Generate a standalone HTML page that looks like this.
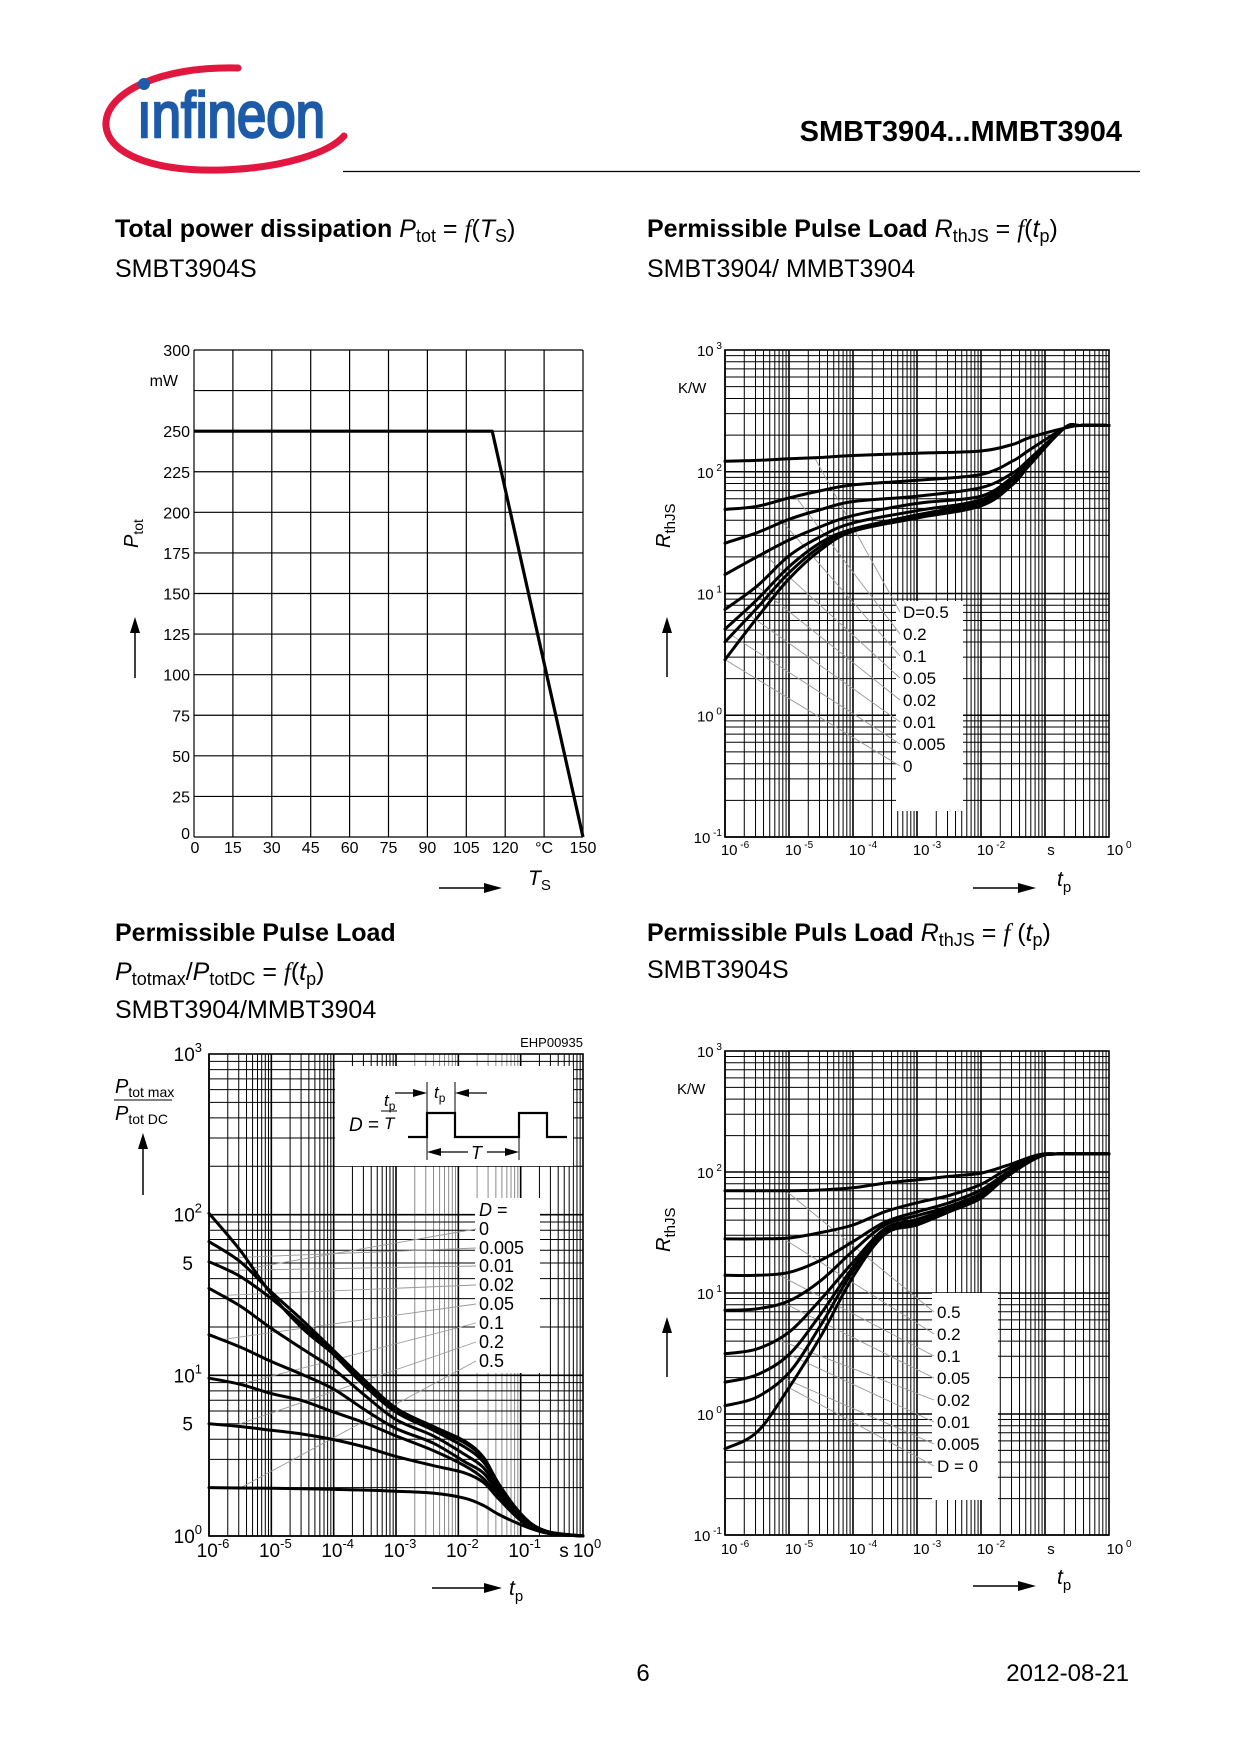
<!DOCTYPE html>
<html><head><meta charset="utf-8"><title>SMBT3904 datasheet page 6</title>
<style>
html,body{margin:0;padding:0;background:#fff;}
svg{display:block;font-family:"Liberation Sans",Arial,sans-serif;}
</style></head>
<body>
<svg id="page" xmlns="http://www.w3.org/2000/svg" width="1240" height="1754" viewBox="0 0 1240 1754">
<rect width="1240" height="1754" fill="#fff"/>
<g>
<path d="M238,68 C160,66 108,92 106,122 C104,152 150,172 222,170 C285,168 330,152 344,136" fill="none" stroke="#e2173f" stroke-width="7" stroke-linecap="round"/>
<circle cx="144" cy="84" r="6" fill="#1d5ba8"/>
<text x="137" y="137" font-size="64" fill="#1d5ba8" textLength="188" lengthAdjust="spacingAndGlyphs" stroke="#1d5ba8" stroke-width="2.6">ınfineon</text>
</g>
<text x="1122" y="141" font-size="29" font-weight="bold" text-anchor="end">SMBT3904...MMBT3904</text>
<line x1="343" y1="171.5" x2="1140" y2="171.5" stroke="#000" stroke-width="1.2"/>

<text x="115" y="237" font-size="25"><tspan font-weight="bold">Total power dissipation </tspan><tspan font-style="italic">P</tspan><tspan font-size="18" dy="5">tot</tspan><tspan dy="-5"> = </tspan><tspan font-style="italic" font-family="Liberation Serif">f</tspan>(<tspan font-style="italic">T</tspan><tspan font-size="18" dy="5">S</tspan><tspan dy="-5">)</tspan></text>
<text x="115" y="277" font-size="25">SMBT3904S</text>
<text x="647" y="237" font-size="25"><tspan font-weight="bold">Permissible Pulse Load </tspan><tspan font-style="italic">R</tspan><tspan font-size="18" dy="5">thJS</tspan><tspan dy="-5"> =  </tspan><tspan font-style="italic" font-family="Liberation Serif">f</tspan>(<tspan font-style="italic">t</tspan><tspan font-size="18" dy="5">p</tspan><tspan dy="-5">)</tspan></text>
<text x="647" y="277" font-size="25">SMBT3904/ MMBT3904</text>
<text x="115" y="941" font-size="25" font-weight="bold">Permissible Pulse Load</text>
<text x="115" y="980" font-size="25"><tspan font-style="italic">P</tspan><tspan font-size="18" dy="5">totmax</tspan><tspan dy="-5">/</tspan><tspan font-style="italic">P</tspan><tspan font-size="18" dy="5">totDC</tspan><tspan dy="-5"> =  </tspan><tspan font-style="italic" font-family="Liberation Serif">f</tspan>(<tspan font-style="italic">t</tspan><tspan font-size="18" dy="5">p</tspan><tspan dy="-5">)</tspan></text>
<text x="115" y="1018" font-size="25">SMBT3904/MMBT3904</text>
<text x="647" y="941" font-size="25"><tspan font-weight="bold">Permissible Puls Load </tspan><tspan font-style="italic">R</tspan><tspan font-size="18" dy="5">thJS</tspan><tspan dy="-5"> = </tspan><tspan font-style="italic" font-family="Liberation Serif">f</tspan> (<tspan font-style="italic">t</tspan><tspan font-size="18" dy="5">p</tspan><tspan dy="-5">)</tspan></text>
<text x="647" y="978" font-size="25">SMBT3904S</text>
<text x="643" y="1681" font-size="24" text-anchor="middle">6</text>
<text x="1129" y="1681" font-size="24" text-anchor="end">2012-08-21</text>
<g id="g1"></g>
<g id="g2"></g>
<g id="g3"></g>
<g id="g4"></g>
</svg>
<script>
// ---------- Chart 1 data ----------
const c1TempTicks = [0,15,30,45,60,75,90,105,120,135,150];
const c1TempLabels = ['0','15','30','45','60','75','90','105','120','°C','150'];
const c1PowerTicks = [0,25,50,75,100,125,150,175,200,225,250,275,300];
const c1PowerLabels = ['0','25','50','75','100','125','150','175','200','225','250','','300'];
const c1SeriesT = [0,115,150];
const c1SeriesP = [250,250,0];

// ---------- Chart 2 data (RthJS vs tp, SMBT3904/MMBT3904) ----------
const c2Exp = [-6,-5.5,-5,-4.5,-4,-3,-2,-1.5,-1.25,-0.7,-0.45,0];
const c2Labels = ['D=0.5','0.2','0.1','0.05','0.02','0.01','0.005','0'];
const c2D05 = [122,124,128,131,136,142,148,168,190,228,240,240];
const c2D02 = [49,52,61,70,78,85,95,123,150,228,240,240];
const c2D01 = [25.9,31.6,40.7,49,57,63,74,98,126,228,240,240];
const c2D005 = [14.3,20,27.5,35.5,43.6,55,63,91,120,228,240,240];
const c2D002 = [7.4,11.5,20.4,29.5,38,47.9,58.9,88,118,228,240,240];
const c2D001 = [5.1,8.9,16.6,26.3,33.9,44.2,56.9,85,116,228,240,240];
const c2D0005 = [4.0,7.6,14.8,24.5,33.1,42.7,55,81,114,228,240,240];
const c2D0 = [2.86,6.3,13.2,22.9,32.4,41.7,52.5,79,112,228,240,240];

// ---------- Chart 3 data (Ptotmax/PtotDC vs tp) ----------
const c3Exp = [-6,-5.5,-5,-4.5,-4,-3.5,-3,-2.4,-1.9,-1.6,-1.35,-1.05,-0.8,-0.5,0];
const c3Labels = ['0','0.005','0.01','0.02','0.05','0.1','0.2','0.5'];
const c3D0 = [102,60,32,19.6,13.5,8.8,6.1,4.7,3.8,3.05,2.1,1.45,1.17,1.05,1.0];
const c3D0005 = [68,51,33,22,14.3,9.3,6.25,4.8,3.9,3.1,2.1,1.45,1.17,1.05,1.0];
const c3D001 = [51,41.3,30,20.7,13.5,8.6,5.9,4.55,3.58,2.9,2.05,1.44,1.16,1.05,1.0];
const c3D002 = [34.8,27,19.6,14.6,10.9,7.5,5.3,4.2,3.22,2.67,1.94,1.41,1.16,1.04,1.0];
const c3D005 = [17.9,15,12.2,10.1,8.2,6.1,4.67,3.78,2.9,2.47,1.84,1.37,1.14,1.04,1.0];
const c3D01 = [9.6,8.8,7.7,6.95,5.9,5.06,4.2,3.4,2.74,2.28,1.75,1.34,1.12,1.03,1.0];
const c3D02 = [5.0,4.8,4.55,4.31,3.98,3.58,3.13,2.74,2.47,2.16,1.70,1.30,1.11,1.03,1.0];
const c3D05 = [2.0,1.99,1.98,1.97,1.95,1.93,1.90,1.85,1.72,1.55,1.36,1.2,1.1,1.03,1.0];

// ---------- Chart 4 data (RthJS vs tp, SMBT3904S) ----------
const c4Exp = [-6,-5.5,-5,-4.5,-4,-3.5,-3,-2.5,-2,-1.6,-1.1,-0.8,-0.5,0];
const c4Labels = ['0.5','0.2','0.1','0.05','0.02','0.01','0.005','D = 0'];
const c4D05 = [70,70,70,71,74,81,86,92,98,113,139,141,141,141];
const c4D02 = [28,28,28.5,31.6,36.5,47,55.7,64,79,105,138,141,141,141];
const c4D01 = [14,14,14.8,18.7,26.6,38.6,46.8,55.7,71,98,135,141,141,141];
const c4D005 = [7.2,7.4,8.6,12.7,22.3,36.5,43.6,52,66.5,94.6,134,141,141,141];
const c4D002 = [3.15,3.45,4.74,8.9,18,34,40.6,50,64,93,134,141,141,141];
const c4D001 = [1.83,2.11,3.1,6.75,16.3,32.9,39.2,48.4,62.9,92.5,133,141,141,141];
const c4D0005 = [1.17,1.38,2.19,5.46,15.2,31.6,37.8,47.4,62,92,133,141,141,141];
const c4D0 = [0.516,0.708,1.65,4.42,13.6,30.6,36.5,46.8,60.7,91,133,141,141,141];

const NS = 'http://www.w3.org/2000/svg';
function mk(tag, attrs, parent, txt){
  const e = document.createElementNS(NS, tag);
  for (const k in attrs) e.setAttribute(k, attrs[k]);
  if (txt !== undefined) e.textContent = txt;
  parent.appendChild(e);
  return e;
}
function smooth(pts){
  let d = 'M' + pts[0][0].toFixed(1) + ',' + pts[0][1].toFixed(1);
  for (let i = 0; i < pts.length - 1; i++){
    const p0 = pts[Math.max(0,i-1)], p1 = pts[i], p2 = pts[i+1], p3 = pts[Math.min(pts.length-1,i+2)];
    const c1x = p1[0] + (p2[0]-p0[0])/6, c1y = p1[1] + (p2[1]-p0[1])/6;
    const c2x = p2[0] - (p3[0]-p1[0])/6, c2y = p2[1] - (p3[1]-p1[1])/6;
    d += ' C' + c1x.toFixed(1)+','+c1y.toFixed(1)+' '+c2x.toFixed(1)+','+c2y.toFixed(1)+' '+p2[0].toFixed(1)+','+p2[1].toFixed(1);
  }
  return d;
}
function supLabel(parent, x, y, base, exp, size, anchor, name){
  const t = mk('text', {x:x, y:y, 'font-size':size, 'text-anchor':anchor}, parent);
  
  
  mk('tspan', {}, t, base);
  mk('tspan', {dy:-Math.round(size*0.45), 'font-size':Math.round(size*0.68)}, t, exp);
  return t;
}
function logGrid(parent, L, R, T, B, xDec0, xDecN, yDec0, yDecN, xf, yf, grayFn){
  for (let d = xDec0; d < xDecN; d++){
    for (let k = 1; k <= 9; k++){
      const x = xf(d + Math.log10(k));
      const ln = mk('line', {x1:x, y1:T, x2:x, y2:B, stroke: grayFn && grayFn(d,k) ? '#8a8a8a' : '#000', 'stroke-width': k===1 ? 1.6 : 1}, parent);
      
      
    }
  }
  for (let d = yDec0; d < yDecN; d++){
    for (let k = 1; k <= 9; k++){
      const y = yf(Math.pow(10, d) * k);
      const ln = mk('line', {x1:L, y1:y, x2:R, y2:y, stroke:'#000', 'stroke-width': k===1 ? 1.6 : 1}, parent);
      
      
    }
  }
  const fr = mk('rect', {x:L, y:T, width:R-L, height:B-T, fill:'none', stroke:'#000', 'stroke-width':1.6}, parent);
  
  
}
function arrowUp(parent, x, y1, y2, name){
  const g = mk('g', {}, parent);
  
  
  mk('line', {x1:x, y1:y2, x2:x, y2:y1+14, stroke:'#000', 'stroke-width':1.5}, g);
  mk('polygon', {points:(x-5)+','+(y1+16)+' '+(x+5)+','+(y1+16)+' '+x+','+y1, fill:'#000'}, g);
}
function arrowRight(parent, x1, x2, y, name){
  const g = mk('g', {}, parent);
  
  
  mk('line', {x1:x1, y1:y, x2:x2-16, y2:y, stroke:'#000', 'stroke-width':1.5}, g);
  mk('polygon', {points:(x2-18)+','+(y-5)+' '+(x2-18)+','+(y+5)+' '+x2+','+y, fill:'#000'}, g);
}

// ================= Chart 1 =================
(function(){
  const g = document.getElementById('g1');
  const L=194, R=583, T=350, B=837;
  const x1 = v => L + v/150*(R-L);
  const y1 = v => B - v/300*(B-T);
  c1TempTicks.forEach(v => {
    const ln = mk('line', {x1:x1(v), y1:T, x2:x1(v), y2:B, stroke:'#000', 'stroke-width':1.2}, g);
    
    
  });
  c1PowerTicks.forEach(v => {
    const ln = mk('line', {x1:L, y1:y1(v), x2:R, y2:y1(v), stroke:'#000', 'stroke-width':1.2}, g);
    
    
  });
  c1TempTicks.forEach((v,i) => {
    const t = mk('text', {x:x1(v)+(i===0?1:0), y:853, 'font-size':16, 'text-anchor':'middle'}, g, c1TempLabels[i]);
    
    
  });
  c1PowerTicks.forEach((v,i) => {
    const t = mk('text', {x:190, y:y1(v)+(v===0?2:6), 'font-size':16, 'text-anchor':'end'}, g, c1PowerLabels[i]);
    
    
  });
  const mw = mk('text', {x:178, y:386, 'font-size':16, 'text-anchor':'end'}, g, 'mW');
  
  
  const pts = c1SeriesT.map((t,i) => x1(t)+','+y1(c1SeriesP[i])).join(' ');
  const pl = mk('polyline', {points:pts, fill:'none', stroke:'#000', 'stroke-width':3.2, 'stroke-linejoin':'round'}, g);
  
  
  const yt = mk('text', {x:0, y:0, 'font-size':20, transform:'translate(138,548) rotate(-90)'}, g);
  
  
  mk('tspan', {'font-style':'italic'}, yt, 'P');
  mk('tspan', {'font-size':14, dy:5}, yt, 'tot');
  arrowUp(g, 135, 617, 678, 'y-axis-arrow');
  arrowRight(g, 439, 502, 888, 'x-axis-arrow');
  const xt = mk('text', {x:528, y:885, 'font-size':21}, g);
  
  
  mk('tspan', {'font-style':'italic'}, xt, 'T');
  mk('tspan', {'font-size':15, dy:5}, xt, 'S');
})();

// ================= generic log chart =================
function drawLog(cfg){
  const g = document.getElementById(cfg.id);
  const {L,R,T,B,xd0,xd1,yd0,yd1} = cfg;
  const xf = e => L + (e - xd0)/(xd1-xd0)*(R-L);
  const yf = v => B - (Math.log10(v) - yd0)/(yd1-yd0)*(B-T);
  logGrid(g, L, R, T, B, xd0, xd1, yd0, yd1, xf, yf, cfg.gray);
  cfg.boxes.forEach(b => {
    const r = mk('rect', {x:b[0], y:b[1], width:b[2]-b[0], height:b[3]-b[1], fill:'#fff'}, g);
    
    
  });
  cfg.series.forEach((s,i) => {
    const e = cfg.leaderExp[i];
    let v = s[0];
    for (let j = 0; j < cfg.exp.length-1; j++){
      if (e >= cfg.exp[j] && e <= cfg.exp[j+1]){
        const f = (e-cfg.exp[j])/(cfg.exp[j+1]-cfg.exp[j]);
        v = Math.pow(10, Math.log10(s[j])*(1-f)+Math.log10(s[j+1])*f);
      }
    }
    const ln = mk('line', {x1:xf(e), y1:yf(v), x2:cfg.labelX-3, y2:cfg.labelY[i]-6, stroke:'#999', 'stroke-width':0.9}, g);
    
    
  });
  cfg.series.forEach((s,i) => {
    const pts = s.map((v,j) => [xf(cfg.exp[j]), yf(v)]);
    const p = mk('path', {d:smooth(pts), fill:'none', stroke:'#000', 'stroke-width':3, 'stroke-linejoin':'round', 'stroke-linecap':'round'}, g);
    
    
  });
  cfg.labels.forEach((lab,i) => {
    const t = mk('text', {x:cfg.labelX, y:cfg.labelY[i], 'font-size':cfg.labelSize}, g, lab);
    
    
  });
  for (let d = xd0; d <= xd1; d++){
    if (cfg.sAt === d) continue;
    supLabel(g, xf(d)+cfg.xlOff, cfg.xlY, '10', cfg.xExpTxt(d), cfg.tickSize, 'middle', 'x-tick-label');
  }
  if (cfg.sAt !== undefined){
    const t = mk('text', {x:xf(cfg.sAt)+cfg.sOff, y:cfg.xlY, 'font-size':cfg.tickSize, 'text-anchor':'middle'}, g, 's');
    
    
  }
  for (let d = yd0; d <= yd1; d++){
    supLabel(g, cfg.ylX, yf(Math.pow(10,d))+cfg.ylOff, '10', cfg.yExpTxt(d), cfg.tickSize, 'end', 'y-tick-label');
  }
  return {g, xf, yf};
}

// ================= Chart 2 =================
(function(){
  const r = drawLog({id:'g2', L:725, R:1109, T:350, B:837, xd0:-6, xd1:0, yd0:-1, yd1:3,
    exp:c2Exp, series:[c2D05,c2D02,c2D01,c2D005,c2D002,c2D001,c2D0005,c2D0], labels:c2Labels,
    leaderExp:[-4.6,-4.9,-5.1,-5.4,-5.5,-5.7,-5.9,-6],
    boxes:[[896,601,963,811,'legend-box']], labelX:903, labelY:[618,640,662,684,706,728,750,772], labelSize:17,
    tickSize:15, xlY:855, xlOff:10, xExpTxt:d=>' '+d, sAt:-1, sOff:6, ylX:722, ylOff:6, yExpTxt:d=>' '+d});
  const g = r.g;
  const kw = mk('text', {x:678, y:393, 'font-size':15}, g, 'K/W');
  
  
  const yt = mk('text', {x:0, y:0, 'font-size':20, transform:'translate(670,548) rotate(-90)'}, g);
  
  
  mk('tspan', {'font-style':'italic'}, yt, 'R');
  mk('tspan', {'font-size':15, dy:5}, yt, 'thJS');
  arrowUp(g, 667, 617, 677, 'y-axis-arrow');
  arrowRight(g, 973, 1036, 888, 'x-axis-arrow');
  const xt = mk('text', {x:1057, y:886, 'font-size':21}, g);
  
  
  mk('tspan', {'font-style':'italic'}, xt, 't');
  mk('tspan', {'font-size':15, dy:6}, xt, 'p');
})();

// ================= Chart 3 =================
(function(){
  const r = drawLog({id:'g3', L:209, R:583, T:1054, B:1536, xd0:-6, xd1:0, yd0:0, yd1:3,
    exp:c3Exp, series:[c3D0,c3D0005,c3D001,c3D002,c3D005,c3D01,c3D02,c3D05], labels:c3Labels,
    leaderExp:[-5.3,-5.6,-5.7,-5.8,-5.8,-5.5,-5.6,-5.5],
    gray:(d,k)=> (d===-3||d===-2) && k>1,
    boxes:[[335,1066,573,1166,'pulse-diagram-inset'],[475,1198,540,1373,'legend-box']], labelX:479, labelY:[1235,1254,1272,1291,1310,1329,1348,1367], labelSize:18,
    tickSize:19, xlY:1557, xlOff:4, xExpTxt:d=>''+d, ylX:202, ylOff:7, yExpTxt:d=>''+d});
  const g = r.g;
  const dl = mk('text', {x:479, y:1216, 'font-size':18}, g);
  
  
  mk('tspan', {'font-style':'italic'}, dl, 'D');
  mk('tspan', {}, dl, ' =');
  [5,50].forEach(v => {
    const t = mk('text', {x:193, y:r.yf(v)+7, 'font-size':19, 'text-anchor':'end'}, g, '5');
    
    
  });
  const s = mk('text', {x:564, y:1557, 'font-size':19, 'text-anchor':'middle'}, g, 's');
  
  
  const code = mk('text', {x:583, y:1047, 'font-size':13, 'text-anchor':'end'}, g, 'EHP00935');
  
  
  const yt = mk('g', {}, g);
  
  
  const t1 = mk('text', {x:115, y:1093, 'font-size':20}, yt);
  mk('tspan', {'font-style':'italic'}, t1, 'P');
  mk('tspan', {'font-size':14, dy:4}, t1, 'tot max');
  mk('line', {x1:114, y1:1100, x2:172, y2:1100, stroke:'#000', 'stroke-width':1}, yt);
  const t2 = mk('text', {x:115, y:1120, 'font-size':20}, yt);
  mk('tspan', {'font-style':'italic'}, t2, 'P');
  mk('tspan', {'font-size':14, dy:4}, t2, 'tot DC');
  arrowUp(g, 143, 1133, 1195, 'y-axis-arrow');
  arrowRight(g, 432, 502, 1588, 'x-axis-arrow');
  const xt = mk('text', {x:509, y:1595, 'font-size':21}, g);
  
  
  mk('tspan', {'font-style':'italic'}, xt, 't');
  mk('tspan', {'font-size':15, dy:6}, xt, 'p');
  const ins = mk('g', {}, g);
  
  
  mk('polyline', {points:'408,1137 427,1137 427,1113 455,1113 455,1137 519,1137 519,1113 547,1113 547,1137 567,1137', fill:'none', stroke:'#000', 'stroke-width':2.2}, ins);
  const dEq = mk('text', {x:349, y:1131, 'font-size':19}, ins);
  mk('tspan', {'font-style':'italic'}, dEq, 'D');
  mk('tspan', {}, dEq, ' =');
  const tpn = mk('text', {x:384, y:1106, 'font-size':17, 'font-style':'italic'}, ins, 't');
  mk('tspan', {'font-size':12, dy:4, 'font-style':'normal'}, tpn, 'p');
  mk('line', {x1:381, y1:1111, x2:397, y2:1111, stroke:'#000', 'stroke-width':1}, ins);
  mk('text', {x:384, y:1129, 'font-size':17, 'font-style':'italic'}, ins, 'T');
  mk('line', {x1:427, y1:1082, x2:427, y2:1113, stroke:'#000', 'stroke-width':1}, ins);
  mk('line', {x1:455, y1:1082, x2:455, y2:1113, stroke:'#000', 'stroke-width':1}, ins);
  mk('line', {x1:395, y1:1093, x2:420, y2:1093, stroke:'#000', 'stroke-width':1.2}, ins);
  mk('polygon', {points:'413,1089 413,1097 427,1093', fill:'#000'}, ins);
  mk('line', {x1:462, y1:1093, x2:487, y2:1093, stroke:'#000', 'stroke-width':1.2}, ins);
  mk('polygon', {points:'469,1089 469,1097 455,1093', fill:'#000'}, ins);
  const tpt = mk('text', {x:434, y:1098, 'font-size':17, 'font-style':'italic'}, ins, 't');
  mk('tspan', {'font-size':12, dy:4, 'font-style':'normal'}, tpt, 'p');
  mk('line', {x1:427, y1:1137, x2:427, y2:1160, stroke:'#000', 'stroke-width':1}, ins);
  mk('line', {x1:519, y1:1137, x2:519, y2:1160, stroke:'#000', 'stroke-width':1}, ins);
  mk('line', {x1:434, y1:1152, x2:468, y2:1152, stroke:'#000', 'stroke-width':1.2}, ins);
  mk('polygon', {points:'441,1148 441,1156 427,1152', fill:'#000'}, ins);
  mk('line', {x1:487, y1:1152, x2:512, y2:1152, stroke:'#000', 'stroke-width':1.2}, ins);
  mk('polygon', {points:'505,1148 505,1156 519,1152', fill:'#000'}, ins);
  mk('text', {x:471, y:1159, 'font-size':18, 'font-style':'italic'}, ins, 'T');
})();

// ================= Chart 4 =================
(function(){
  const r = drawLog({id:'g4', L:725, R:1109, T:1051, B:1535, xd0:-6, xd1:0, yd0:-1, yd1:3,
    exp:c4Exp, series:[c4D05,c4D02,c4D01,c4D005,c4D002,c4D001,c4D0005,c4D0], labels:c4Labels,
    leaderExp:[-5.05,-5.1,-5.2,-5.1,-5.2,-5.0,-5.1,-5.0],
    boxes:[[932,1293,998,1500,'legend-box']], labelX:937, labelY:[1318,1340,1362,1384,1406,1428,1450,1472], labelSize:17,
    tickSize:15, xlY:1554, xlOff:10, xExpTxt:d=>' '+d, sAt:-1, sOff:6, ylX:722, ylOff:6, yExpTxt:d=>' '+d});
  const g = r.g;
  const kw = mk('text', {x:677, y:1094, 'font-size':15}, g, 'K/W');
  
  
  const yt = mk('text', {x:0, y:0, 'font-size':20, transform:'translate(670,1252) rotate(-90)'}, g);
  
  
  mk('tspan', {'font-style':'italic'}, yt, 'R');
  mk('tspan', {'font-size':15, dy:5}, yt, 'thJS');
  arrowUp(g, 667, 1317, 1377, 'y-axis-arrow');
  arrowRight(g, 973, 1036, 1586, 'x-axis-arrow');
  const xt = mk('text', {x:1057, y:1584, 'font-size':21}, g);
  
  
  mk('tspan', {'font-style':'italic'}, xt, 't');
  mk('tspan', {'font-size':15, dy:6}, xt, 'p');
})();
</script>
</body></html>
